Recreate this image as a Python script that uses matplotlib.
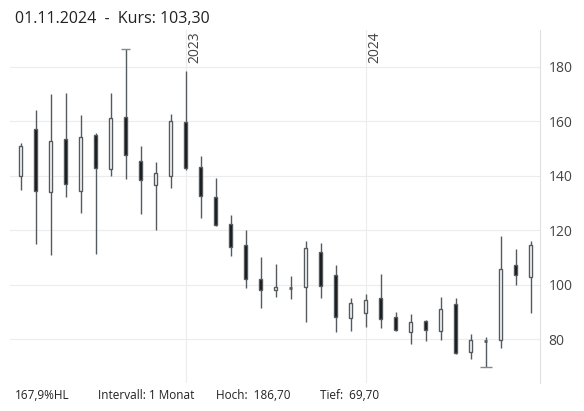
import matplotlib
matplotlib.use("Agg")
import matplotlib.pyplot as plt

plt.rcParams['font.family'] = ['Open Sans', 'DejaVu Sans']

opens  = [140,157,134,153.5,134.5,154.9,142.4,161.5,145.3,136.7,139.8,159.6,143.1,132.1,122.2,114.6,102.1,98.2,98.8,99.3,111.9,103.5,87.9,89.8,95.3,88.1,82.8,86.8,83.1,92.8,75.4,79.3,79.6,107.2,103.0]
closes = [151,134.5,152.8,136.9,154.2,142.7,161.1,147.8,138.6,140.9,160.0,143.0,132.5,121.9,113.8,102.0,98.3,99.2,99.0,113.4,99.7,88.1,93.5,94.3,87.6,83.3,86.3,83.5,91.3,74.9,79.6,79.6,105.7,103.5,114.5]
highs  = [151.9,164.1,170.0,170.4,162.2,155.6,170.4,186.7,150.8,145.0,162.6,178.3,147.2,139.1,125.6,120.1,110.3,107.6,103.2,116.1,115.3,107.2,95.3,96.8,103.9,89.9,89.2,87.2,95.7,95.0,81.8,80.7,118.1,113.0,116.1]
lows   = [134.8,115.1,111.1,132.3,126.5,111.4,140.0,138.9,126.1,120.1,135.6,142.2,124.6,121.5,110.7,98.9,91.6,95.6,94.7,86.5,95.3,82.8,83.2,84.7,84.2,83.2,78.4,79.5,79.9,74.8,72.9,69.7,76.9,100.0,89.8]
year_labels = ["2023", "2024"]
year_pos = [11, 23]
yticks = [80, 100, 120, 140, 160, 180]

fig = plt.figure(figsize=(5.84, 4.11), dpi=100)
ax = fig.add_axes([10/584, 28/411, 530/584, 353/411])
for s in ["top", "left", "bottom"]:
    ax.spines[s].set_visible(False)
ax.spines["right"].set_color("#e0e0e0")
ax.yaxis.tick_right()
ax.set_yticks(yticks)
ax.tick_params(axis="y", length=0, labelsize=10, labelcolor="#444444", pad=6)
ax.set_xticks([])
for t in yticks:
    ax.axhline(t, color="#ececec", lw=0.8, zorder=0)
for p, lab in zip(year_pos, year_labels):
    ax.axvline(p, color="#ececec", lw=0.8, zorder=0)
    ax.text(p + 0.12, 193, lab, rotation=90, va="top", ha="left", fontsize=10, color="#444444")

wick = "#555a5e"
w = 0.2
for i, (o, c, h, l) in enumerate(zip(opens, closes, highs, lows)):
    ax.vlines(i, l, h, color=wick, lw=1, zorder=1)
    lo, hi = min(o, c), max(o, c)
    if abs(c - o) < 0.5:
        ax.hlines((o + c) / 2, i - w/2, i + w/2, color=wick, lw=2, zorder=2)
        continue
    fc = "white" if c > o else "#111111"
    ax.add_patch(plt.Rectangle((i - w/2, lo), w, hi - lo, facecolor=fc, edgecolor=wick, lw=1, zorder=2))
imax = highs.index(max(highs)); imin = lows.index(min(lows))
ax.hlines(max(highs), imax - 0.3, imax + 0.3, color="#888888", lw=1)
ax.hlines(min(lows), imin - 0.4, imin + 0.4, color="#888888", lw=1)

ax.set_xlim(-0.73, 34.6)
ax.set_ylim(64, 193.5)

fig.text(15/584, 1 - 19/411, "01.11.2024  -  Kurs: 103,30", fontsize=11.5, color="#222222", va="center")
fy = 1 - 395/411
for x, s in [(15, "167,9%HL"), (98, "Intervall: 1 Monat"), (216, "Hoch:  186,70"), (320, "Tief:  69,70")]:
    fig.text(x/584, fy, s, fontsize=8.5, color="#222222", va="center")
fig.savefig("out.png", dpi=100)
